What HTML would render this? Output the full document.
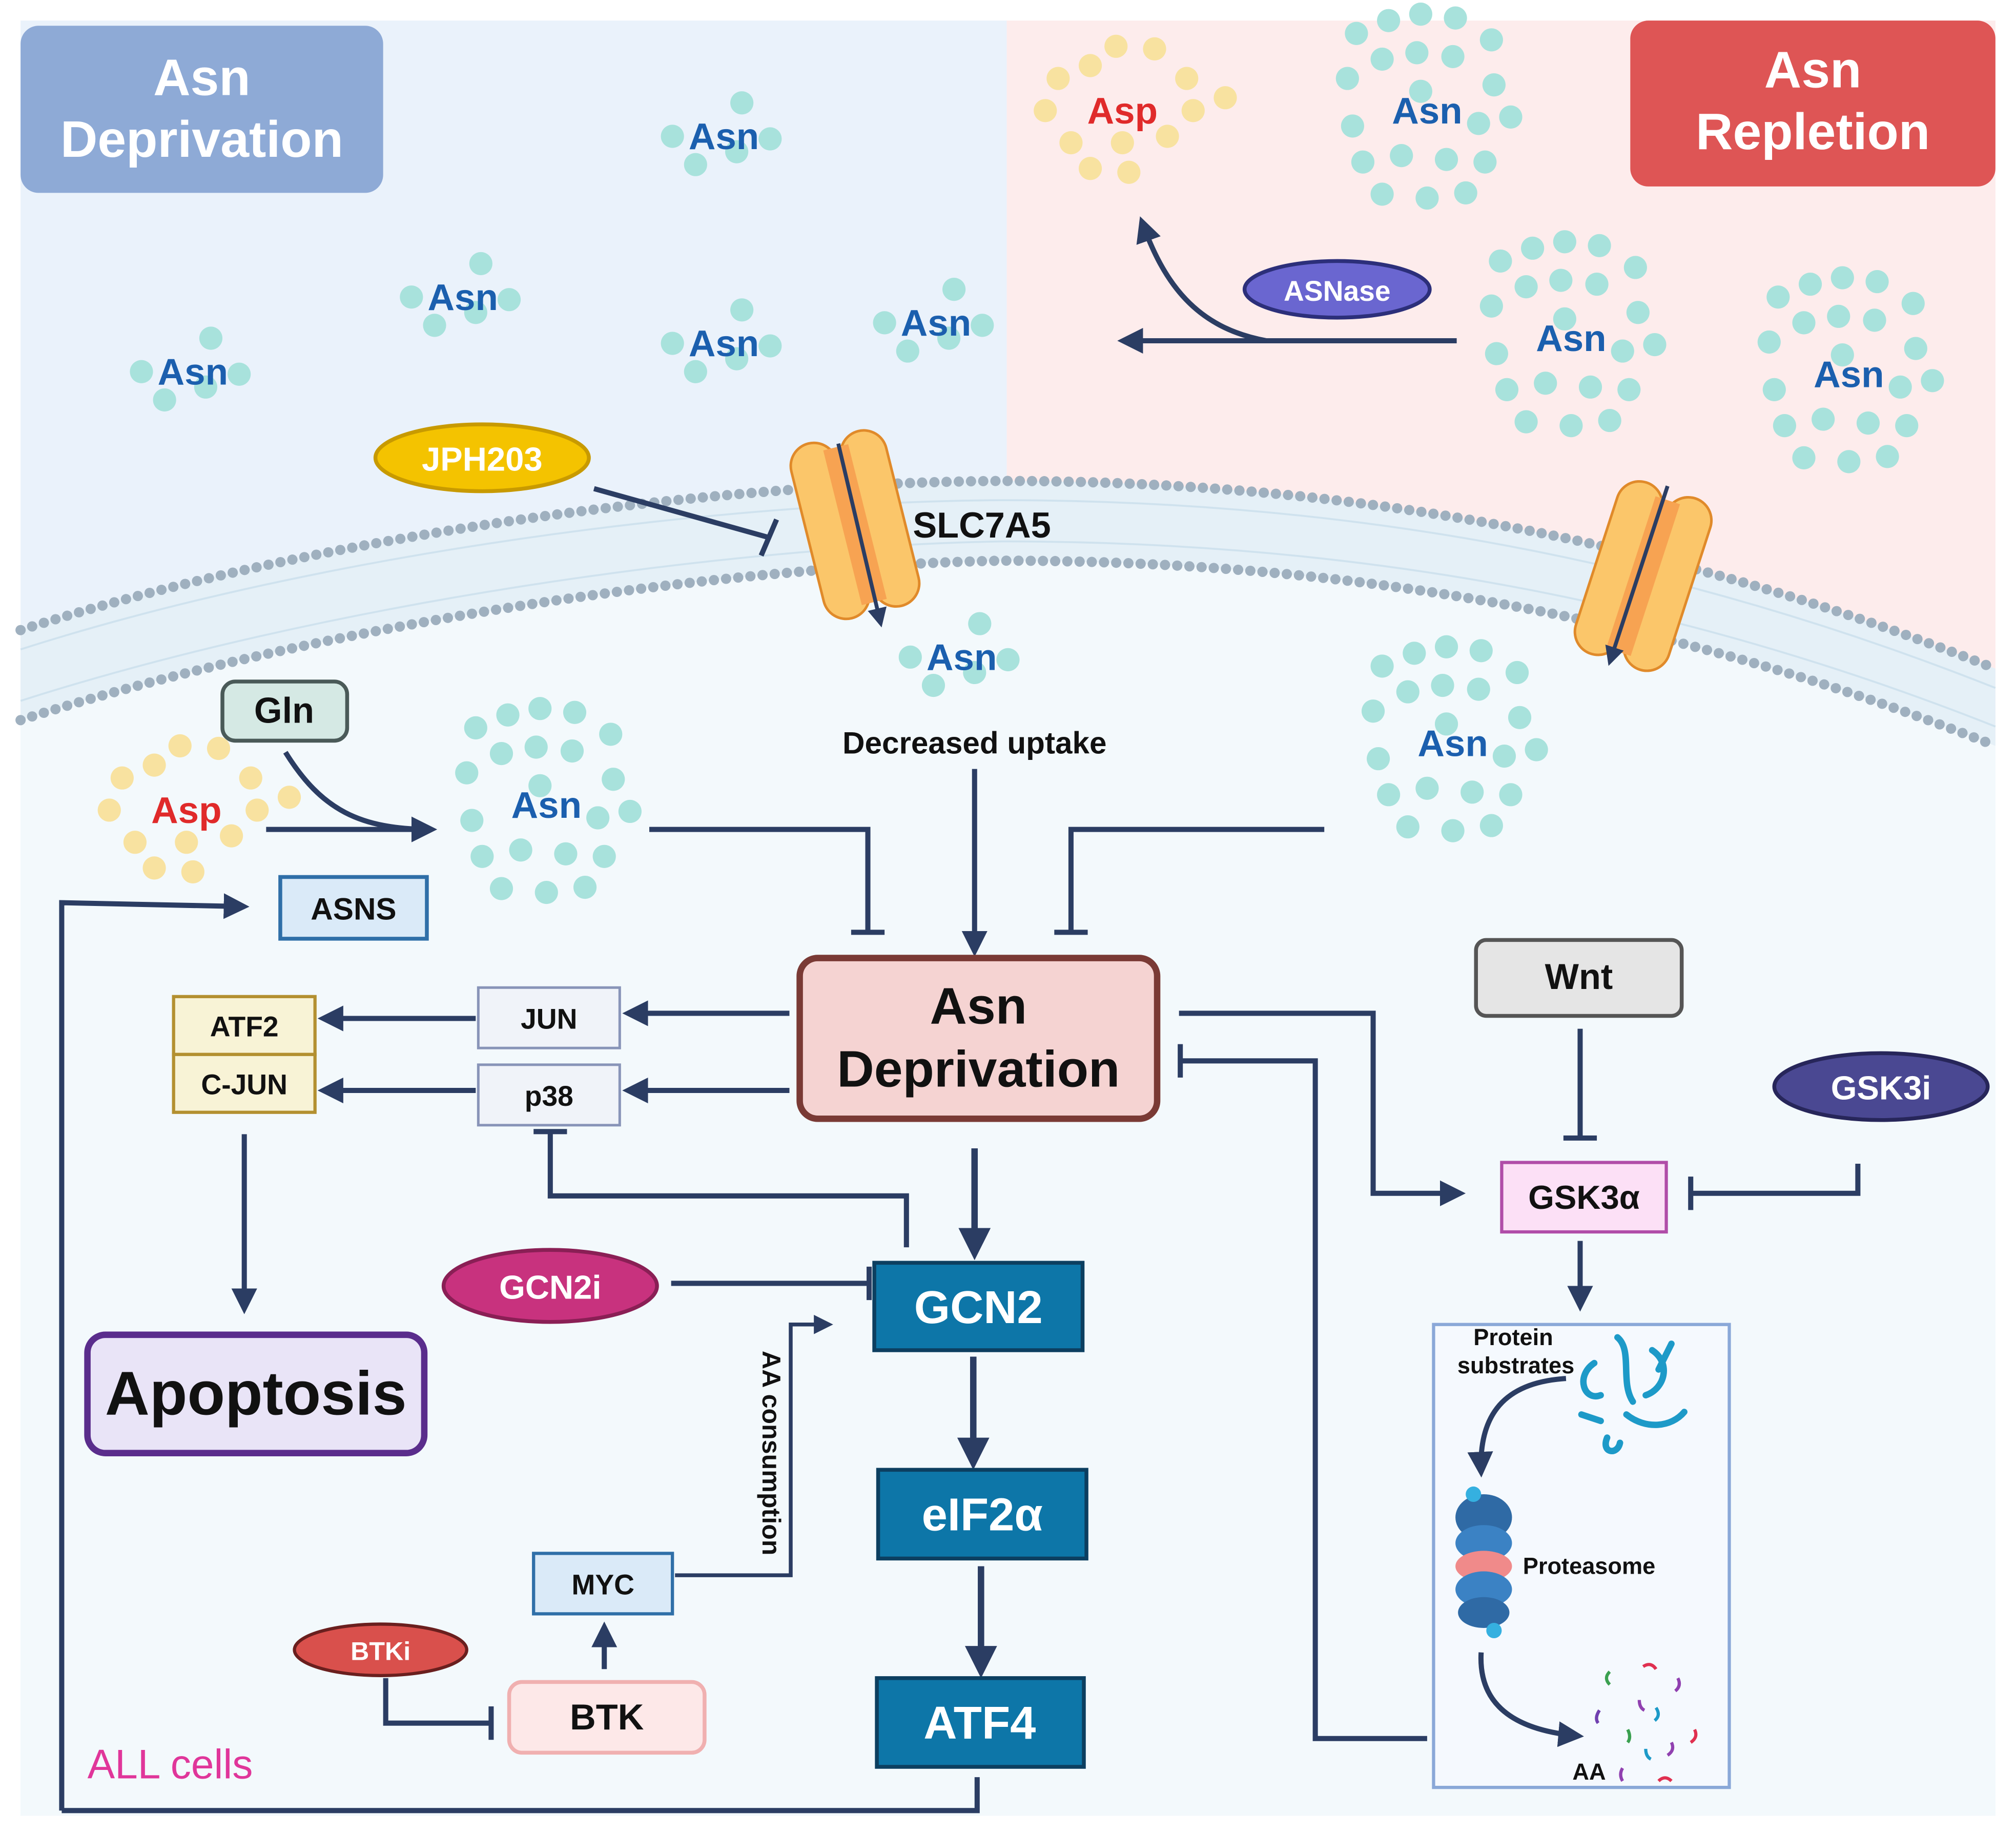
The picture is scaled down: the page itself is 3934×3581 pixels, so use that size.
<!DOCTYPE html>
<html><head><meta charset="utf-8"><style>
html,body{margin:0;padding:0;background:#fff}
svg{display:block}
text{font-family:"Liberation Sans",sans-serif;font-weight:bold}
</style></head><body>
<svg width="3934" height="3581" viewBox="0 0 1568 1427" preserveAspectRatio="none" xmlns="http://www.w3.org/2000/svg">
<defs>
<marker id="ah" viewBox="0 0 10 10" refX="8" refY="5" markerWidth="5" markerHeight="5" orient="auto-start-reverse"><path d="M0,0 L10,5 L0,10 z" fill="#2b3d63"/></marker>
<g id="asnS"><circle cx="-40" cy="0" r="9" fill="#a8e2dc"/><circle cx="14" cy="-26" r="9" fill="#a8e2dc"/><circle cx="-22" cy="22" r="9" fill="#a8e2dc"/><circle cx="10" cy="12" r="9" fill="#a8e2dc"/><circle cx="36" cy="2" r="9" fill="#a8e2dc"/><text x="0" y="10" text-anchor="middle" font-size="29" fill="#1b5fae">Asn</text></g>
<g id="asnB"><circle cx="-55" cy="-60" r="9" fill="#a8e2dc"/><circle cx="-30" cy="-70" r="9" fill="#a8e2dc"/><circle cx="-5" cy="-75" r="9" fill="#a8e2dc"/><circle cx="22" cy="-72" r="9" fill="#a8e2dc"/><circle cx="50" cy="-55" r="9" fill="#a8e2dc"/><circle cx="-62" cy="-25" r="9" fill="#a8e2dc"/><circle cx="-35" cy="-40" r="9" fill="#a8e2dc"/><circle cx="-8" cy="-45" r="9" fill="#a8e2dc"/><circle cx="20" cy="-42" r="9" fill="#a8e2dc"/><circle cx="52" cy="-20" r="9" fill="#a8e2dc"/><circle cx="-58" cy="12" r="9" fill="#a8e2dc"/><circle cx="40" cy="10" r="9" fill="#a8e2dc"/><circle cx="65" cy="5" r="9" fill="#a8e2dc"/><circle cx="-50" cy="40" r="9" fill="#a8e2dc"/><circle cx="-20" cy="35" r="9" fill="#a8e2dc"/><circle cx="15" cy="38" r="9" fill="#a8e2dc"/><circle cx="45" cy="40" r="9" fill="#a8e2dc"/><circle cx="-35" cy="65" r="9" fill="#a8e2dc"/><circle cx="0" cy="68" r="9" fill="#a8e2dc"/><circle cx="30" cy="64" r="9" fill="#a8e2dc"/><circle cx="-5" cy="-15" r="9" fill="#a8e2dc"/><text x="0" y="10" text-anchor="middle" font-size="29" fill="#1b5fae">Asn</text></g>
<g id="aspC"><circle cx="-50" cy="-25" r="9" fill="#f8e2a0"/><circle cx="-25" cy="-35" r="9" fill="#f8e2a0"/><circle cx="-5" cy="-50" r="9" fill="#f8e2a0"/><circle cx="25" cy="-48" r="9" fill="#f8e2a0"/><circle cx="50" cy="-25" r="9" fill="#f8e2a0"/><circle cx="-60" cy="0" r="9" fill="#f8e2a0"/><circle cx="55" cy="0" r="9" fill="#f8e2a0"/><circle cx="80" cy="-10" r="9" fill="#f8e2a0"/><circle cx="-40" cy="25" r="9" fill="#f8e2a0"/><circle cx="0" cy="25" r="9" fill="#f8e2a0"/><circle cx="35" cy="20" r="9" fill="#f8e2a0"/><circle cx="-25" cy="45" r="9" fill="#f8e2a0"/><circle cx="5" cy="48" r="9" fill="#f8e2a0"/><text x="0" y="10" text-anchor="middle" font-size="29" fill="#e02a2a">Asp</text></g>
</defs>
<!-- backgrounds -->
<rect x="16" y="16" width="767" height="560" fill="#eaf2fb"/>
<rect x="783" y="16" width="769" height="560" fill="#fdecec"/>
<path d="M16,490 C250,415 560,375 780,374 C1050,374 1300,420 1552,520 L1552,1412 L16,1412 Z" fill="#e5f0f7"/>
<path d="M16,560 C250,485 560,440 780,436 C1050,436 1300,480 1552,580 L1552,1412 L16,1412 Z" fill="#f3f9fc"/>
<path d="M16,490 C250,415 560,375 780,374 C1050,374 1300,420 1552,520" fill="none" stroke="#9fb0bf" stroke-width="8" stroke-dasharray="0 9.5" stroke-linecap="round"/>
<path d="M16,505 C250,430 560,390 780,389 C1050,389 1300,435 1552,535" fill="none" stroke="#cfe2ee" stroke-width="1.5"/>
<path d="M16,545 C250,470 560,425 780,421 C1050,421 1300,465 1552,565" fill="none" stroke="#cfe2ee" stroke-width="1.5"/>
<path d="M16,560 C250,485 560,440 780,436 C1050,436 1300,480 1552,580" fill="none" stroke="#9fb0bf" stroke-width="8" stroke-dasharray="0 9.5" stroke-linecap="round"/>
<!-- title boxes -->
<rect x="16" y="20" width="282" height="130" rx="14" fill="#8eaad6"/>
<text x="157" y="74" text-anchor="middle" font-size="40" fill="#fff">Asn</text>
<text x="157" y="122" text-anchor="middle" font-size="40" fill="#fff">Deprivation</text>
<rect x="1268" y="16" width="284" height="129" rx="14" fill="#de5555"/>
<text x="1410" y="68" text-anchor="middle" font-size="40" fill="#fff">Asn</text>
<text x="1410" y="116" text-anchor="middle" font-size="40" fill="#fff">Repletion</text>
<!-- clusters -->
<use href="#asnS" x="563" y="106"/>
<use href="#asnS" x="360" y="231"/>
<use href="#asnS" x="150" y="289"/>
<use href="#asnS" x="563" y="267"/>
<use href="#asnS" x="728" y="251"/>
<use href="#asnS" x="748" y="511"/>
<use href="#aspC" x="873" y="86"/>
<use href="#asnB" x="1110" y="86"/>
<use href="#asnB" x="1222" y="263"/>
<use href="#asnB" x="1438" y="291"/>
<use href="#asnB" x="1130" y="578"/>
<use href="#aspC" x="145" y="630"/>
<use href="#asnB" x="425" y="626"/>
<!-- ASNase -->
<path d="M1133,265 L873,265" stroke="#2b3d63" stroke-width="4" fill="none" marker-end="url(#ah)"/>
<path d="M985,265 C930,255 905,220 888,172" stroke="#2b3d63" stroke-width="4" fill="none" marker-end="url(#ah)"/>
<ellipse cx="1040" cy="225" rx="72" ry="22" fill="#6a66d0" stroke="#2c2f7a" stroke-width="3"/>
<text x="1040" y="234" text-anchor="middle" font-size="22" fill="#fff">ASNase</text>
<!-- JPH203 -->
<ellipse cx="375" cy="356" rx="83" ry="26" fill="#f4c300" stroke="#c89a00" stroke-width="3"/>
<text x="375" y="366" text-anchor="middle" font-size="26" fill="#fff">JPH203</text>
<path d="M462,380 L598,418 M592,432 L604,404" stroke="#2b3d63" stroke-width="4" fill="none"/>
<!-- transporters -->
<g transform="translate(665,408) rotate(-14)">
<rect x="-38" y="-70" width="36" height="140" rx="18" fill="#fbc66a" stroke="#e08a2a" stroke-width="2"/>
<rect x="2" y="-70" width="36" height="140" rx="18" fill="#fbc66a" stroke="#e08a2a" stroke-width="2"/>
<rect x="-10" y="-62" width="20" height="124" fill="#f7a352"/>
</g>
<path d="M652,345 L685,485" stroke="#2b3d63" stroke-width="3" marker-end="url(#ah)"/>
<g transform="translate(1278,448) rotate(18)">
<rect x="-38" y="-70" width="36" height="140" rx="18" fill="#fbc66a" stroke="#e08a2a" stroke-width="2"/>
<rect x="2" y="-70" width="36" height="140" rx="18" fill="#fbc66a" stroke="#e08a2a" stroke-width="2"/>
<rect x="-10" y="-62" width="20" height="124" fill="#f7a352"/>
</g>
<path d="M1297,378 L1252,515" stroke="#2b3d63" stroke-width="3" marker-end="url(#ah)"/>
<text x="710" y="418" font-size="28" fill="#111">SLC7A5</text>
<text x="758" y="586" text-anchor="middle" font-size="24" fill="#111">Decreased uptake</text>
<!-- Gln -->
<rect x="173" y="530" width="97" height="46" rx="10" fill="#d5e9e4" stroke="#4a5a58" stroke-width="3"/>
<text x="221" y="562" text-anchor="middle" font-size="28" fill="#111">Gln</text>
<g stroke="#2b3d63" stroke-width="4" fill="none">
<path d="M222,585 C250,630 280,645 336,645" marker-end="url(#ah)"/>
<path d="M207,645 L336,645" marker-end="url(#ah)"/>
<path d="M48,1408 L48,702 L190,705" marker-end="url(#ah)"/>
<path d="M505,645 L675,645 L675,725 M662,725 L688,725"/>
<path d="M758,598 L758,740" marker-end="url(#ah)"/>
<path d="M1030,645 L833,645 L833,725 M820,725 L846,725"/>
<path d="M614,788 L488,788" marker-end="url(#ah)"/>
<path d="M614,848 L488,848" marker-end="url(#ah)"/>
<path d="M370,792 L251,792" marker-end="url(#ah)"/>
<path d="M370,848 L251,848" marker-end="url(#ah)"/>
<path d="M190,882 L190,1018" marker-end="url(#ah)"/>
<path d="M705,970 L705,930 L428,930 L428,880 M415,880 L441,880"/>
<path d="M758,893 L758,975" stroke-width="5" marker-end="url(#ah)"/>
<path d="M522,998 L676,998 M676,985 L676,1011"/>
<path d="M757,1055 L757,1138" stroke-width="5" marker-end="url(#ah)"/>
<path d="M763,1218 L763,1300" stroke-width="5" marker-end="url(#ah)"/>
<path d="M760,1382 L760,1408 L48,1408"/>
<path d="M525,1225 L615,1225 L615,1030 L645,1030" stroke-width="3" marker-end="url(#ah)"/>
<path d="M470,1298 L470,1265" marker-end="url(#ah)"/>
<path d="M300,1305 L300,1340 L382,1340 M382,1327 L382,1353"/>
<path d="M1229,800 L1229,885 M1216,885 L1242,885"/>
<path d="M1445,905 L1445,928 L1315,928 M1315,915 L1315,941"/>
<path d="M917,788 L1068,788 L1068,928 L1136,928" marker-end="url(#ah)"/>
<path d="M1229,965 L1229,1016" marker-end="url(#ah)"/>
<path d="M1110,1352 L1023,1352 L1023,825 L918,825 M918,812 L918,838"/>
<path d="M1218,1072 C1170,1075 1150,1100 1152,1145" marker-end="url(#ah)"/>
<path d="M1152,1285 C1150,1320 1170,1345 1228,1350" marker-end="url(#ah)"/>
</g>
<!-- ASNS -->
<rect x="218" y="682" width="114" height="48" fill="#daeaf8" stroke="#2f6fa8" stroke-width="3"/>
<text x="275" y="715" text-anchor="middle" font-size="24" fill="#111">ASNS</text>
<!-- main box -->
<rect x="622" y="745" width="278" height="125" rx="14" fill="#f5d3d2" stroke="#7a3a35" stroke-width="5"/>
<text x="761" y="796" text-anchor="middle" font-size="40" fill="#111">Asn</text>
<text x="761" y="845" text-anchor="middle" font-size="40" fill="#111">Deprivation</text>
<rect x="372" y="768" width="110" height="47" fill="#f0f3f9" stroke="#8894b8" stroke-width="2"/>
<text x="427" y="800" text-anchor="middle" font-size="22" fill="#111">JUN</text>
<rect x="372" y="828" width="110" height="47" fill="#f0f3f9" stroke="#8894b8" stroke-width="2"/>
<text x="427" y="860" text-anchor="middle" font-size="22" fill="#111">p38</text>
<rect x="135" y="775" width="110" height="45" fill="#f8f3d6" stroke="#b39030" stroke-width="2.5"/>
<text x="190" y="806" text-anchor="middle" font-size="22" fill="#111">ATF2</text>
<rect x="135" y="820" width="110" height="45" fill="#f8f3d6" stroke="#b39030" stroke-width="2.5"/>
<text x="190" y="851" text-anchor="middle" font-size="22" fill="#111">C-JUN</text>
<rect x="68" y="1038" width="262" height="92" rx="14" fill="#e9e4f7" stroke="#5a2d8c" stroke-width="5"/>
<text x="199" y="1100" text-anchor="middle" font-size="48" fill="#111">Apoptosis</text>
<!-- GCN2 -->
<rect x="680" y="982" width="162" height="68" fill="#0d76a8" stroke="#0c3f60" stroke-width="3"/>
<text x="761" y="1029" text-anchor="middle" font-size="36" fill="#fff">GCN2</text>
<ellipse cx="428" cy="1000" rx="83" ry="28" fill="#c8327e" stroke="#8a1f55" stroke-width="3"/>
<text x="428" y="1010" text-anchor="middle" font-size="26" fill="#fff">GCN2i</text>
<rect x="683" y="1143" width="162" height="69" fill="#0d76a8" stroke="#0c3f60" stroke-width="3"/>
<text x="764" y="1190" text-anchor="middle" font-size="36" fill="#fff">eIF2α</text>
<rect x="682" y="1305" width="161" height="69" fill="#0d76a8" stroke="#0c3f60" stroke-width="3"/>
<text x="762" y="1352" text-anchor="middle" font-size="36" fill="#fff">ATF4</text>
<text transform="translate(593,1130) rotate(90)" text-anchor="middle" font-size="20" fill="#111">AA consumption</text>
<rect x="415" y="1208" width="108" height="47" fill="#daeaf8" stroke="#2f6fa8" stroke-width="2.5"/>
<text x="469" y="1240" text-anchor="middle" font-size="22" fill="#111">MYC</text>
<rect x="396" y="1308" width="152" height="55" rx="10" fill="#fde8e8" stroke="#f0b0b0" stroke-width="3"/>
<text x="472" y="1345" text-anchor="middle" font-size="28" fill="#111">BTK</text>
<ellipse cx="296" cy="1283" rx="67" ry="20" fill="#d9504c" stroke="#6a1f1e" stroke-width="2.5"/>
<text x="296" y="1291" text-anchor="middle" font-size="20" fill="#fff">BTKi</text>
<text x="68" y="1383" font-size="32" font-weight="normal" fill="#e0369a" style="font-weight:normal">ALL cells</text>
<!-- right side -->
<rect x="1148" y="731" width="160" height="59" rx="8" fill="#e5e5e5" stroke="#555" stroke-width="3"/>
<text x="1228" y="769" text-anchor="middle" font-size="28" fill="#111">Wnt</text>
<ellipse cx="1463" cy="845" rx="83" ry="26" fill="#4a4892" stroke="#27265a" stroke-width="3"/>
<text x="1463" y="855" text-anchor="middle" font-size="26" fill="#fff">GSK3i</text>
<rect x="1168" y="904" width="128" height="54" fill="#fce0f6" stroke="#b04da8" stroke-width="2.5"/>
<text x="1232" y="940" text-anchor="middle" font-size="26" fill="#111">GSK3α</text>
<rect x="1115" y="1030" width="230" height="360" fill="#f5f9fe" stroke="#8aa8d8" stroke-width="2.5"/>
<g stroke="#2b3d63" stroke-width="4" fill="none">
<path d="M1218,1072 C1170,1075 1150,1100 1152,1145" marker-end="url(#ah)"/>
<path d="M1152,1285 C1150,1320 1170,1345 1228,1350" marker-end="url(#ah)"/>
</g>
<text x="1177" y="1046" text-anchor="middle" font-size="18" fill="#111">Protein</text>
<text x="1179" y="1068" text-anchor="middle" font-size="18" fill="#111">substrates</text>
<g stroke="#1d9ac8" stroke-width="5" fill="none" stroke-linecap="round">
<path d="M1240,1060 C1225,1070 1232,1090 1245,1085"/><path d="M1258,1040 C1270,1050 1260,1075 1270,1090"/><path d="M1285,1050 C1300,1060 1295,1080 1280,1085"/><path d="M1230,1100 L1245,1105"/><path d="M1265,1100 C1280,1112 1300,1110 1310,1098"/><path d="M1250,1118 C1245,1130 1258,1132 1260,1122"/><path d="M1300,1045 L1290,1065"/>
</g>
<g>
<ellipse cx="1154" cy="1180" rx="22" ry="18" fill="#2f6aa5"/><ellipse cx="1154" cy="1200" rx="22" ry="14" fill="#3b82c4"/>
<ellipse cx="1154" cy="1218" rx="22" ry="12" fill="#f08a8a"/><ellipse cx="1154" cy="1236" rx="22" ry="14" fill="#3b82c4"/><ellipse cx="1154" cy="1254" rx="20" ry="12" fill="#2f6aa5"/>
<circle cx="1146" cy="1162" r="6" fill="#35b0e0"/><circle cx="1162" cy="1268" r="6" fill="#35b0e0"/>
</g>
<text x="1236" y="1224" text-anchor="middle" font-size="18" fill="#111">Proteasome</text>
<g stroke-width="2.5" fill="none">
<path d="M1252,1300 q-5,5 0,10" stroke="#3aa050"/><path d="M1278,1296 q6,-4 10,2" stroke="#e03050"/><path d="M1305,1305 q3,6 -2,10" stroke="#9040b0"/><path d="M1275,1322 q0,6 4,8" stroke="#9040b0"/><path d="M1244,1330 q-4,6 -1,10" stroke="#7040b0"/><path d="M1288,1328 q4,6 -1,10" stroke="#1d9ac8"/><path d="M1266,1345 q3,6 0,10" stroke="#3aa050"/><path d="M1318,1345 q3,6 -3,10" stroke="#e03050"/><path d="M1300,1355 q3,6 -3,10" stroke="#9040b0"/><path d="M1262,1375 q-3,5 0,10" stroke="#9040b0"/><path d="M1290,1385 q5,-5 10,0" stroke="#e03050"/><path d="M1280,1360 q0,6 4,8" stroke="#1d9ac8"/>
</g>
<text x="1236" y="1384" text-anchor="middle" font-size="18" fill="#111">AA</text>
</svg>
</body></html>
